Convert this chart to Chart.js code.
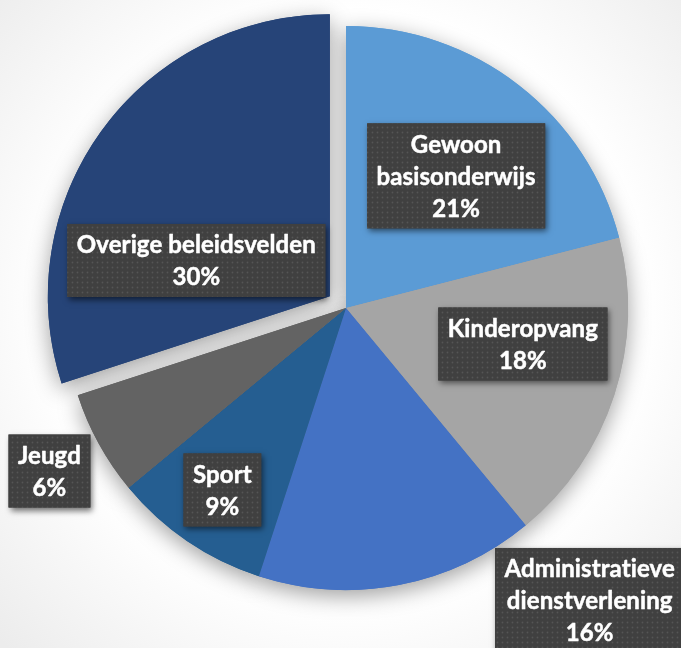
<!DOCTYPE html>
<html><head><meta charset="utf-8">
<script src="https://cdn.jsdelivr.net/npm/chart.js@4/dist/chart.umd.min.js"></script>
<style>html,body{margin:0;padding:0;background:#fff;overflow:hidden}#wrap{width:681px;height:648px;position:relative}</style>
</head><body><div id="wrap"><canvas id="c" width="681" height="648"></canvas></div>
<script>
// ---- data ----
const categories = [["Gewoon", "basisonderwijs"], "Kinderopvang", ["Administratieve", "dienstverlening"], "Sport", "Jeugd", "Overige beleidsvelden"];
const values = [21, 18, 16, 9, 6, 30];
const colors = ["#5B9BD5", "#A5A5A5", "#4472C4", "#255E91", "#636363", "#264478"];
// ---- label placement (style) ----
const labelRadius = [0.61, 0.64, 1.35, 0.78, 1.2, 0.49];
const labelAngleShift = [2, -6.5, -29, 0, 0, -21];
const explodeIndex = 5;
const explodeDist = 20;
const labelFont = "bold 24px Lato, 'Open Sans', sans-serif";
const lineH = 32, padX = 9.5, padY = 4.5;

const total = values.reduce((a, b) => a + b, 0);

function makePattern(ctx) {
  const t = document.createElement('canvas');
  t.width = 5; t.height = 5;
  const g = t.getContext('2d');
  g.fillStyle = '#404040'; g.fillRect(0, 0, 5, 5);
  g.fillStyle = '#555555';
  g.beginPath(); g.arc(2.5, 2.5, 0.9, 0, Math.PI * 2); g.fill();
  return ctx.createPattern(t, 'repeat');
}

const bgPlugin = {
  id: 'bg',
  beforeDraw(chart) {
    const ctx = chart.ctx;
    const meta = chart.getDatasetMeta(0);
    const a = meta.data[0];
    const cx = a ? a.x : chart.width / 2, cy = a ? a.y : chart.height / 2;
    const g = ctx.createRadialGradient(cx, cy, 0, cx, cy, 480);
    g.addColorStop(0, '#ffffff');
    g.addColorStop(0.62, '#ffffff');
    g.addColorStop(1, '#ececec');
    ctx.save();
    ctx.fillStyle = g;
    ctx.fillRect(0, 0, chart.width, chart.height);
    ctx.restore();
  }
};

const explodePlugin = {
  id: 'explode',
  afterDatasetsUpdate(chart) {
    const arc = chart.getDatasetMeta(0).data[explodeIndex];
    if (!arc) return;
    const half = (arc.startAngle + arc.endAngle) / 2;
    arc.x += Math.cos(half) * explodeDist;
    arc.y += Math.sin(half) * explodeDist;
  }
};

const shadowPlugin = {
  id: 'pieShadow',
  beforeDatasetsDraw(chart) {
    const ctx = chart.ctx;
    chart.getDatasetMeta(0).data.forEach((arc, i) => {
      ctx.save();
      ctx.shadowColor = 'rgba(0,0,0,0.38)';
      ctx.shadowBlur = 22;
      ctx.shadowOffsetX = 0;
      ctx.shadowOffsetY = 6;
      ctx.fillStyle = colors[i];
      ctx.beginPath();
      ctx.moveTo(arc.x, arc.y);
      ctx.arc(arc.x, arc.y, arc.outerRadius, arc.startAngle, arc.endAngle);
      ctx.closePath();
      ctx.fill();
      ctx.restore();
    });
  }
};

const labelPlugin = {
  id: 'boxLabels',
  afterDatasetsDraw(chart) {
    const ctx = chart.ctx;
    const pat = makePattern(ctx);
    chart.getDatasetMeta(0).data.forEach((arc, i) => {
      const mid = (arc.startAngle + arc.endAngle) / 2 + labelAngleShift[i] * Math.PI / 180;
      const r = arc.outerRadius * labelRadius[i];
      const cx = arc.x + Math.cos(mid) * r;
      const cy = arc.y + Math.sin(mid) * r;
      const cat = categories[i];
      const lines = (Array.isArray(cat) ? cat.slice() : [cat]);
      lines.push(Math.round(values[i] / total * 100) + '%');
      ctx.save();
      ctx.font = labelFont;
      if ('letterSpacing' in ctx) ctx.letterSpacing = '0.1px';
      const tw = Math.max(...lines.map(l => ctx.measureText(l).width));
      const w = tw + 2 * padX, h = lines.length * lineH + 2 * padY;
      const x0 = cx - w / 2, y0 = cy - h / 2;
      ctx.shadowColor = 'rgba(0,0,0,0.55)';
      ctx.shadowBlur = 6;
      ctx.shadowOffsetX = 2;
      ctx.shadowOffsetY = 3;
      ctx.fillStyle = '#404040';
      ctx.fillRect(x0, y0, w, h);
      ctx.shadowColor = 'transparent';
      ctx.fillStyle = pat;
      ctx.fillRect(x0, y0, w, h);
      ctx.fillStyle = '#ffffff';
      ctx.strokeStyle = '#ffffff';
      ctx.lineWidth = 0.5;
      ctx.lineJoin = 'round';
      ctx.textAlign = 'center';
      ctx.textBaseline = 'middle';
      lines.forEach((l, k) => {
        const ty = y0 + padY + lineH * (k + 0.5) + 1;
        ctx.fillText(l, cx, ty);
        ctx.strokeText(l, cx, ty);
      });
      ctx.restore();
    });
  }
};

new Chart(document.getElementById('c'), {
  type: 'pie',
  data: {
    labels: categories,
    datasets: [{
      data: values,
      backgroundColor: colors,
      borderWidth: 0
    }]
  },
  options: {
    responsive: false,
    animation: false,
    radius: 282,
    layout: { padding: { left: 11, right: 0, top: 0, bottom: 32 } },
    plugins: { legend: { display: false }, tooltip: { enabled: false } },
    events: []
  },
  plugins: [bgPlugin, explodePlugin, shadowPlugin, labelPlugin]
});
</script>
</body></html>
